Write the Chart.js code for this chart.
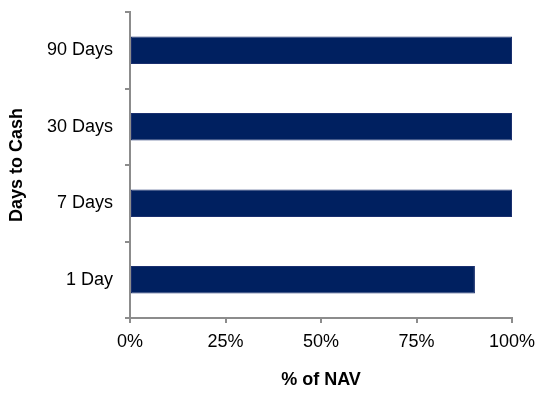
<!DOCTYPE html>
<html>
<head>
<meta charset="utf-8">
<script src="https://cdn.jsdelivr.net/npm/chart.js@4"></script>
<style>
  html, body { margin: 0; padding: 0; background: #fff; }
  #wrap { width: 537px; height: 395px; }
</style>
</head>
<body>
<div id="wrap"><canvas id="chart" width="537" height="395"></canvas></div>
<script>
// データ
const categories = ['90 Days', '30 Days', '7 Days', '1 Day'];
const navValues = [100, 100, 100, 90.3];
const xTicks = [0, 25, 50, 75, 100];

const axisGray = '#8c8c8c';
const fontFamily = 'Arial, "Liberation Sans", sans-serif';

const ctx = document.getElementById('chart').getContext('2d');
new Chart(ctx, {
    type: 'bar',
    data: {
        labels: categories,
        datasets: [{
            data: navValues,
            backgroundColor: '#002060',
            borderColor: '#1a2f6e',
            borderWidth: 1,
            borderSkipped: false,
            barPercentage: 0.36,
            categoryPercentage: 1
        }]
    },
    options: {
        indexAxis: 'y',
        responsive: false,
        animation: false,
        layout: { padding: { top: 12, right: 25, left: 0, bottom: 0 } },
        plugins: { legend: { display: false }, tooltip: { enabled: false } },
        scales: {
            x: {
                min: 0,
                max: 100,
                afterBuildTicks: (axis) => { axis.ticks = xTicks.map(v => ({ value: v })); },
                afterFit: (axis) => {
                    axis.height = 395 - 318;
                    axis.paddingLeft = 0;
                    axis.paddingRight = 0;
                },
                ticks: {
                    callback: (v) => v + '%',
                    color: '#000',
                    font: { family: fontFamily, size: 18 },
                    padding: 8,
                    maxRotation: 0
                },
                grid: { drawOnChartArea: false, drawTicks: true, tickLength: 5, color: axisGray, lineWidth: 2 },
                border: { display: true, color: axisGray, width: 2 },
                title: {
                    display: true,
                    text: '% of NAV',
                    color: '#000',
                    font: { family: fontFamily, size: 18, weight: 'bold' },
                    padding: { top: 0, bottom: 4 }
                }
            },
            y: {
                afterFit: (axis) => {
                    axis.width = 130;
                    axis.paddingTop = 0;
                    axis.paddingBottom = 0;
                },
                ticks: {
                    color: '#000',
                    font: { family: fontFamily, size: 18 },
                    padding: 12
                },
                grid: { drawOnChartArea: false, drawTicks: true, tickLength: 5, color: axisGray, lineWidth: 2, offset: true },
                border: { display: true, color: axisGray, width: 2 },
                title: {
                    display: true,
                    text: 'Days to Cash',
                    color: '#000',
                    font: { family: fontFamily, size: 18, weight: 'bold' },
                    padding: { top: 6, bottom: 0 }
                }
            }
        }
    }
});
</script>
</body>
</html>
